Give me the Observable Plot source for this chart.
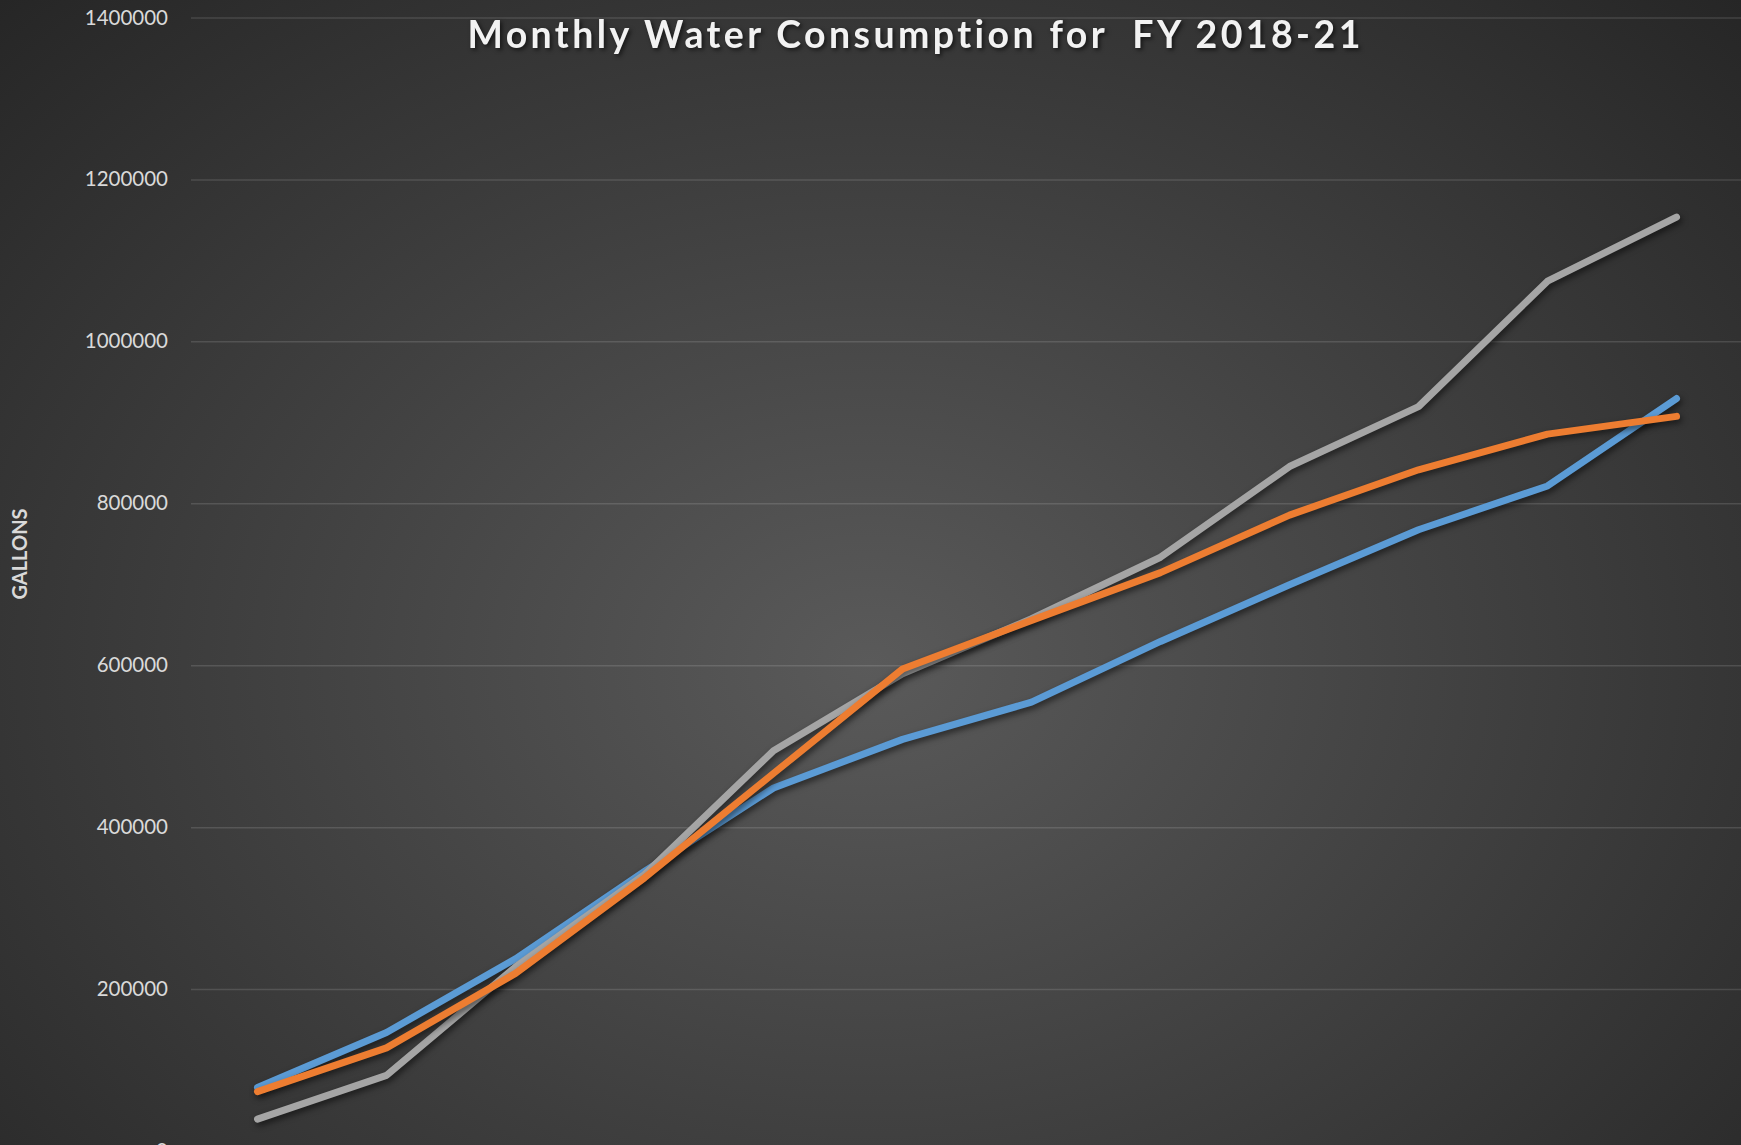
<!DOCTYPE html>
<html>
<head>
<meta charset="utf-8">
<script src="https://cdn.jsdelivr.net/npm/d3@7"></script>
<script src="https://cdn.jsdelivr.net/npm/@observablehq/plot@0.6"></script>
<style>
  html, body { margin: 0; padding: 0; width: 1741px; height: 1145px; overflow: hidden; }
  body {
    background: radial-gradient(ellipse farthest-corner at 50% 58%, #5a5a5a 0%, #262626 100%);
    color: #d9d9d9;
    font-family: Lato, "Open Sans", sans-serif;
  }
  #chart svg { display: block; font-variant-ligatures: none; }
  g[aria-label="line"] path { filter: drop-shadow(2px 3px 3px rgba(0,0,0,0.55)); }
  .title-text text { filter: drop-shadow(2px 2px 2px rgba(0,0,0,0.6)); white-space: pre; font-variant-ligatures: none; font-feature-settings: "liga" 0; }
</style>
</head>
<body>
<div id="chart"></div>
<script>
// ---- data ----
const months = ["Jul","Aug","Sep","Oct","Nov","Dec","Jan","Feb","Mar","Apr","May","Jun"];
const fy1819 = [79000, 147000, 238000, 346000, 449000, 509000, 555000, 630000, 700000, 768000, 822000, 930000];
const fy1920 = [74000, 128000, 220000, 338000, 467000, 596000, 656000, 715000, 786000, 842000, 886000, 908000];
const fy2021 = [40000, 94000, 228000, 342000, 495000, 590000, 658000, 734000, 846000, 920000, 1075000, 1154000];
const seriesNames = ["FY 2018-19", "FY 2019-20", "FY 2020-21"];
const seriesColors = ["#5B9BD5", "#ED7D31", "#A5A5A5"];
const yTicks = [0, 200000, 400000, 600000, 800000, 1000000, 1200000, 1400000];
const titleText = "Monthly Water Consumption for  FY 2018-21";
const yLabel = "GALLONS";

// draw order: blue, gray, orange (orange on top)
const seriesData = {"FY 2018-19": fy1819, "FY 2019-20": fy1920, "FY 2020-21": fy2021};
const drawOrder = ["FY 2018-19", "FY 2020-21", "FY 2019-20"];
const table = drawOrder.flatMap(s => months.map((m, i) => ({series: s, month: m, value: seriesData[s][i]})));

const W = 1741, H = 1145, ML = 191, MT = 17.5;

const chart = Plot.plot({
  width: W,
  height: H,
  marginLeft: ML,
  marginRight: 0,
  marginTop: MT,
  marginBottom: 0,
  style: {background: "transparent", overflow: "visible", fontFamily: "Lato, 'Open Sans', sans-serif", color: "#d9d9d9"},
  x: {type: "point", domain: months, padding: 0.5, axis: null},
  y: {domain: [0, 1400000], range: [1151, MT], axis: null},
  color: {domain: seriesNames, range: seriesColors},
  marks: [
    Plot.gridY(yTicks, {stroke: "#ffffff", strokeOpacity: 0.13, strokeWidth: 1.5}),
    Plot.axisY(yTicks, {tickSize: 0, tickPadding: 23.5, tickFormat: d => String(d), fontSize: 20.5, fill: "#d9d9d9", label: null}),
    Plot.lineY(table, {x: "month", y: "value", z: "series", stroke: "series", strokeWidth: 7, strokeLinecap: "round", strokeLinejoin: "round"}),
    Plot.text([titleText], {frameAnchor: "top", textAnchor: "middle", lineAnchor: "bottom", dx: 913.4 - (ML + W) / 2, dy: 47.7 - MT, fontSize: 37.5, fontWeight: "bold", fill: "#f2f2f2", className: "title-text"}),
    Plot.text([yLabel], {frameAnchor: "left", textAnchor: "middle", lineAnchor: "middle", rotate: -90, dx: 20 - ML, dy: 553.5 - (MT + H) / 2, fontSize: 20, fontWeight: "bold", fill: "#d9d9d9"})
  ]
});

document.getElementById("chart").appendChild(chart);
d3.select(chart).selectAll(".title-text text").attr("textLength", 893).attr("lengthAdjust", "spacing");
</script>
</body>
</html>
